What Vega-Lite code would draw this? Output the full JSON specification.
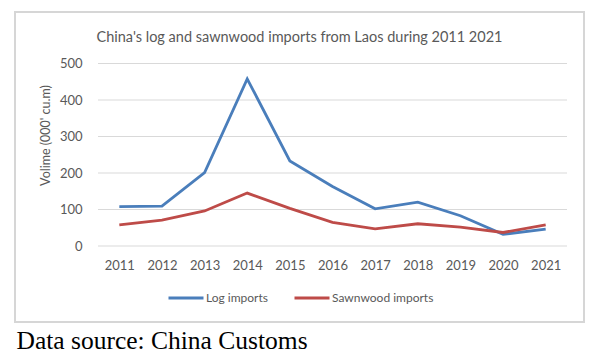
{
  "$schema": "https://vega.github.io/schema/vega-lite/v6.json",
  "width": 569,
  "height": 310,
  "autosize": {"type": "none"},
  "padding": {"left": 15, "top": 12, "right": 15, "bottom": 35},
  "background": "white",
  "config": {
    "view": {"stroke": "#d6d6d6", "strokeWidth": 2},
    "font": "Lato"
  },
  "title": {
    "text": "China's log and sawnwood imports from Laos during 2011 2021",
    "anchor": "middle",
    "frame": "group",
    "font": "Lato",
    "fontSize": 14.5,
    "fontWeight": "normal",
    "color": "#595959",
    "baseline": "middle",
    "offset": -40
  },
  "datasets": {
    "lines": [
      {"year": 2011, "series": "Log imports", "value": 108},
      {"year": 2012, "series": "Log imports", "value": 109},
      {"year": 2013, "series": "Log imports", "value": 201},
      {"year": 2014, "series": "Log imports", "value": 458},
      {"year": 2015, "series": "Log imports", "value": 233},
      {"year": 2016, "series": "Log imports", "value": 163},
      {"year": 2017, "series": "Log imports", "value": 102},
      {"year": 2018, "series": "Log imports", "value": 120},
      {"year": 2019, "series": "Log imports", "value": 83},
      {"year": 2020, "series": "Log imports", "value": 32},
      {"year": 2021, "series": "Log imports", "value": 46},
      {"year": 2011, "series": "Sawnwood imports", "value": 58},
      {"year": 2012, "series": "Sawnwood imports", "value": 71},
      {"year": 2013, "series": "Sawnwood imports", "value": 96},
      {"year": 2014, "series": "Sawnwood imports", "value": 145},
      {"year": 2015, "series": "Sawnwood imports", "value": 103},
      {"year": 2016, "series": "Sawnwood imports", "value": 65},
      {"year": 2017, "series": "Sawnwood imports", "value": 47},
      {"year": 2018, "series": "Sawnwood imports", "value": 61},
      {"year": 2019, "series": "Sawnwood imports", "value": 52},
      {"year": 2020, "series": "Sawnwood imports", "value": 37},
      {"year": 2021, "series": "Sawnwood imports", "value": 58}
    ],
    "grid": [
      {"g": 0}, {"g": 100}, {"g": 200}, {"g": 300}, {"g": 400}, {"g": 500}
    ]
  },
  "layer": [
    {
      "data": {"name": "grid"},
      "mark": {"type": "rule", "color": "#d9d9d9", "strokeWidth": 1},
      "encoding": {
        "x": {"datum": 2010.5, "type": "quantitative"},
        "x2": {"datum": 2021.5},
        "y": {"field": "g", "type": "quantitative"}
      }
    },
    {
      "data": {"name": "lines"},
      "mark": {"type": "line", "strokeWidth": 2.8},
      "encoding": {
        "x": {
          "field": "year",
          "type": "quantitative",
          "scale": {"domain": [2010.5, 2021.5], "range": [83, 552], "nice": false, "zero": false},
          "axis": {
            "orient": "bottom",
            "offset": -76,
            "values": [2011, 2012, 2013, 2014, 2015, 2016, 2017, 2018, 2019, 2020, 2021],
            "format": "d",
            "domain": false,
            "ticks": false,
            "grid": false,
            "labelFont": "Lato",
            "labelFontSize": 13,
            "labelColor": "#595959",
            "labelPadding": 13,
            "labelFlush": false,
            "labelOverlap": false,
            "title": "Data source: China Customs",
            "titleFont": "Liberation Serif",
            "titleFontSize": 25.5,
            "titleFontWeight": "normal",
            "titleColor": "#000000",
            "titleAnchor": "start",
            "titleAlign": "left",
            "titleBaseline": "alphabetic",
            "titleX": 1,
            "titleY": 102
          }
        },
        "y": {
          "field": "value",
          "type": "quantitative",
          "scale": {"domain": [0, 500], "range": [234, 51.5], "nice": false},
          "axis": {
            "orient": "left",
            "offset": -83,
            "values": [0, 100, 200, 300, 400, 500],
            "domain": false,
            "ticks": false,
            "grid": false,
            "labelFont": "Lato",
            "labelFontSize": 13,
            "labelColor": "#595959",
            "labelPadding": 16,
            "title": "Volime (000' cu.m)",
            "titleFont": "Lato",
            "titleFontSize": 12.5,
            "titleFontWeight": "normal",
            "titleColor": "#595959",
            "titleAngle": -90,
            "titleAlign": "center",
            "titleBaseline": "middle",
            "titleX": -53,
            "titleY": 123
          }
        },
        "color": {
          "field": "series",
          "type": "nominal",
          "scale": {"domain": ["Log imports", "Sawnwood imports"], "range": ["#4a7ebb", "#be4b48"]},
          "legend": {
            "title": null,
            "orient": "none",
            "legendX": 152,
            "legendY": 267,
            "direction": "horizontal",
            "symbolType": "stroke",
            "symbolSize": 1225,
            "symbolStrokeWidth": 3,
            "labelOffset": 1,
            "columnPadding": 20,
            "labelFont": "Lato",
            "labelFontSize": 12,
            "labelColor": "#595959"
          }
        }
      }
    }
  ]
}
